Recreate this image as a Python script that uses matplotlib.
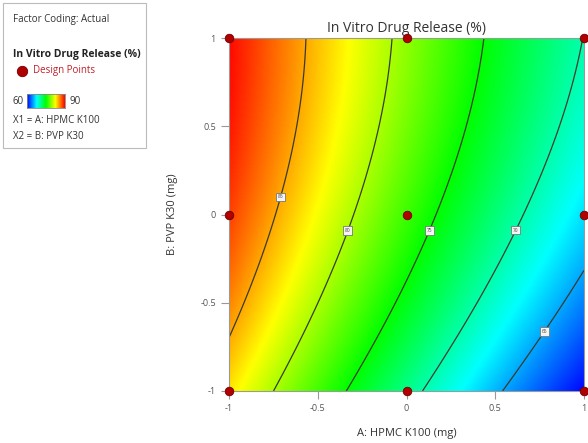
import numpy as np
import matplotlib
matplotlib.use("Agg")
import matplotlib.pyplot as plt
from matplotlib.colors import LinearSegmentedColormap
from matplotlib.patches import Rectangle

plt.rcParams['font.family'] = ['Open Sans', 'DejaVu Sans']

# Quadratic response-surface coefficients:
# Y = b0 + bA*A + bB*B + bAB*A*B + bAA*A^2 + bBB*B^2
b0, bA, bB, bAB, bAA, bBB = 76.76, -10.69, 4.08, 0.80, 0.64, -1.65
contour_levels = [65, 70, 75, 80, 85]
design_A = [-1, 0, 1, -1, 0, 1, -1, 0, 1]
design_B = [1, 1, 1, 0, 0, 0, -1, -1, -1]
tick_values = [-1, -0.5, 0, 0.5, 1]
tick_labels = ["-1", "-0.5", "0", "0.5", "1"]
cbar_min, cbar_max = 60, 90

fig = plt.figure(figsize=(5.88, 4.43), dpi=100)
ax = fig.add_axes([0.3895, 0.1174, 0.6037, 0.7968])

g = np.linspace(-1, 1, 400)
A, B = np.meshgrid(g, g)
Z = b0 + bA * A + bB * B + bAB * A * B + bAA * A ** 2 + bBB * B ** 2
cmap = LinearSegmentedColormap.from_list(
    "de", ["#0000ff", "#00ffff", "#00ff00", "#ffff00", "#ff0000"])
ax.imshow(Z, extent=[-1, 1, -1, 1], origin="lower", cmap=cmap,
          vmin=cbar_min, vmax=cbar_max, aspect="auto", interpolation="bilinear")
cs = ax.contour(A, B, Z, levels=contour_levels, colors="#3a3a2a", linewidths=0.9)
label_pos = [(0.76, -0.65), (0.62, -0.09), (0.13, -0.09), (-0.335, -0.09), (-0.71, 0.1)]
lbls = ax.clabel(cs, manual=label_pos, inline=False, fontsize=3.5, fmt="%d", colors="#444444")
for t in lbls:
    t.set_rotation(0)
    t.set_bbox(dict(boxstyle="square,pad=0.35", fc="#f4f4f4", ec="#777777", lw=0.6))

ax.scatter(design_A, design_B, s=38, c="#b00000", edgecolors="#700000",
           linewidths=0.6, zorder=10, clip_on=False)

ax.set_xlim(-1, 1)
ax.set_ylim(-1, 1)
ax.set_xticks(tick_values)
ax.set_xticklabels(tick_labels)
ax.set_yticks(tick_values)
ax.set_yticklabels(tick_labels)
ax.tick_params(direction="out", length=5.5, width=0.8, color="#999999",
               labelsize=6.5, labelcolor="#555555", pad=4)
for s in ax.spines.values():
    s.set_color("#9a9a9a")
    s.set_linewidth(0.8)

ax.set_title("In Vitro Drug Release (%)", fontsize=10, color="#333333", pad=4)
ax.set_xlabel("A: HPMC K100 (mg)", fontsize=8, color="#333333")
ax.set_ylabel("B: PVP K30 (mg)", fontsize=8, color="#333333")
ax.xaxis.set_label_coords(0.5, -0.106)
ax.yaxis.set_label_coords(-0.143, 0.5)

# Legend panel
fs = 7
fig.patches.append(Rectangle((3 / 588, 1 - 148 / 443), 143 / 588, 145 / 443,
                             transform=fig.transFigure, fill=False,
                             ec="#bbbbbb", lw=0.8))
fig.text(0.022, 0.955, "Factor Coding: Actual", fontsize=fs, color="#333333", va="center")
fig.text(0.022, 0.878, "In Vitro Drug Release (%)", fontsize=7.5, color="#222222",
         va="center", fontweight="bold")
fig.lines.append(plt.Line2D([0.037], [0.840], transform=fig.transFigure, marker="o",
                            ms=7.5, mfc="#b00000", mec="#700000", mew=0.6, ls="none"))
fig.text(0.056, 0.840, "Design Points", fontsize=fs, color="#c0202a", va="center")
fig.text(0.022, 0.772, str(cbar_min), fontsize=fs, color="#333333", va="center")
cax = fig.add_axes([27 / 588, 1 - 108 / 443, 38 / 588, 14 / 443])
cax.imshow(np.linspace(cbar_min, cbar_max, 200)[None, :], cmap=cmap, aspect="auto",
           vmin=cbar_min, vmax=cbar_max)
cax.set_xticks([])
cax.set_yticks([])
for s in cax.spines.values():
    s.set_color("#888888")
    s.set_linewidth(0.6)
fig.text(0.119, 0.772, str(cbar_max), fontsize=fs, color="#333333", va="center")
fig.text(0.022, 0.729, "X1 = A: HPMC K100", fontsize=fs, color="#333333", va="center")
fig.text(0.022, 0.693, "X2 = B: PVP K30", fontsize=fs, color="#333333", va="center")

fig.savefig("out.png", dpi=100)
